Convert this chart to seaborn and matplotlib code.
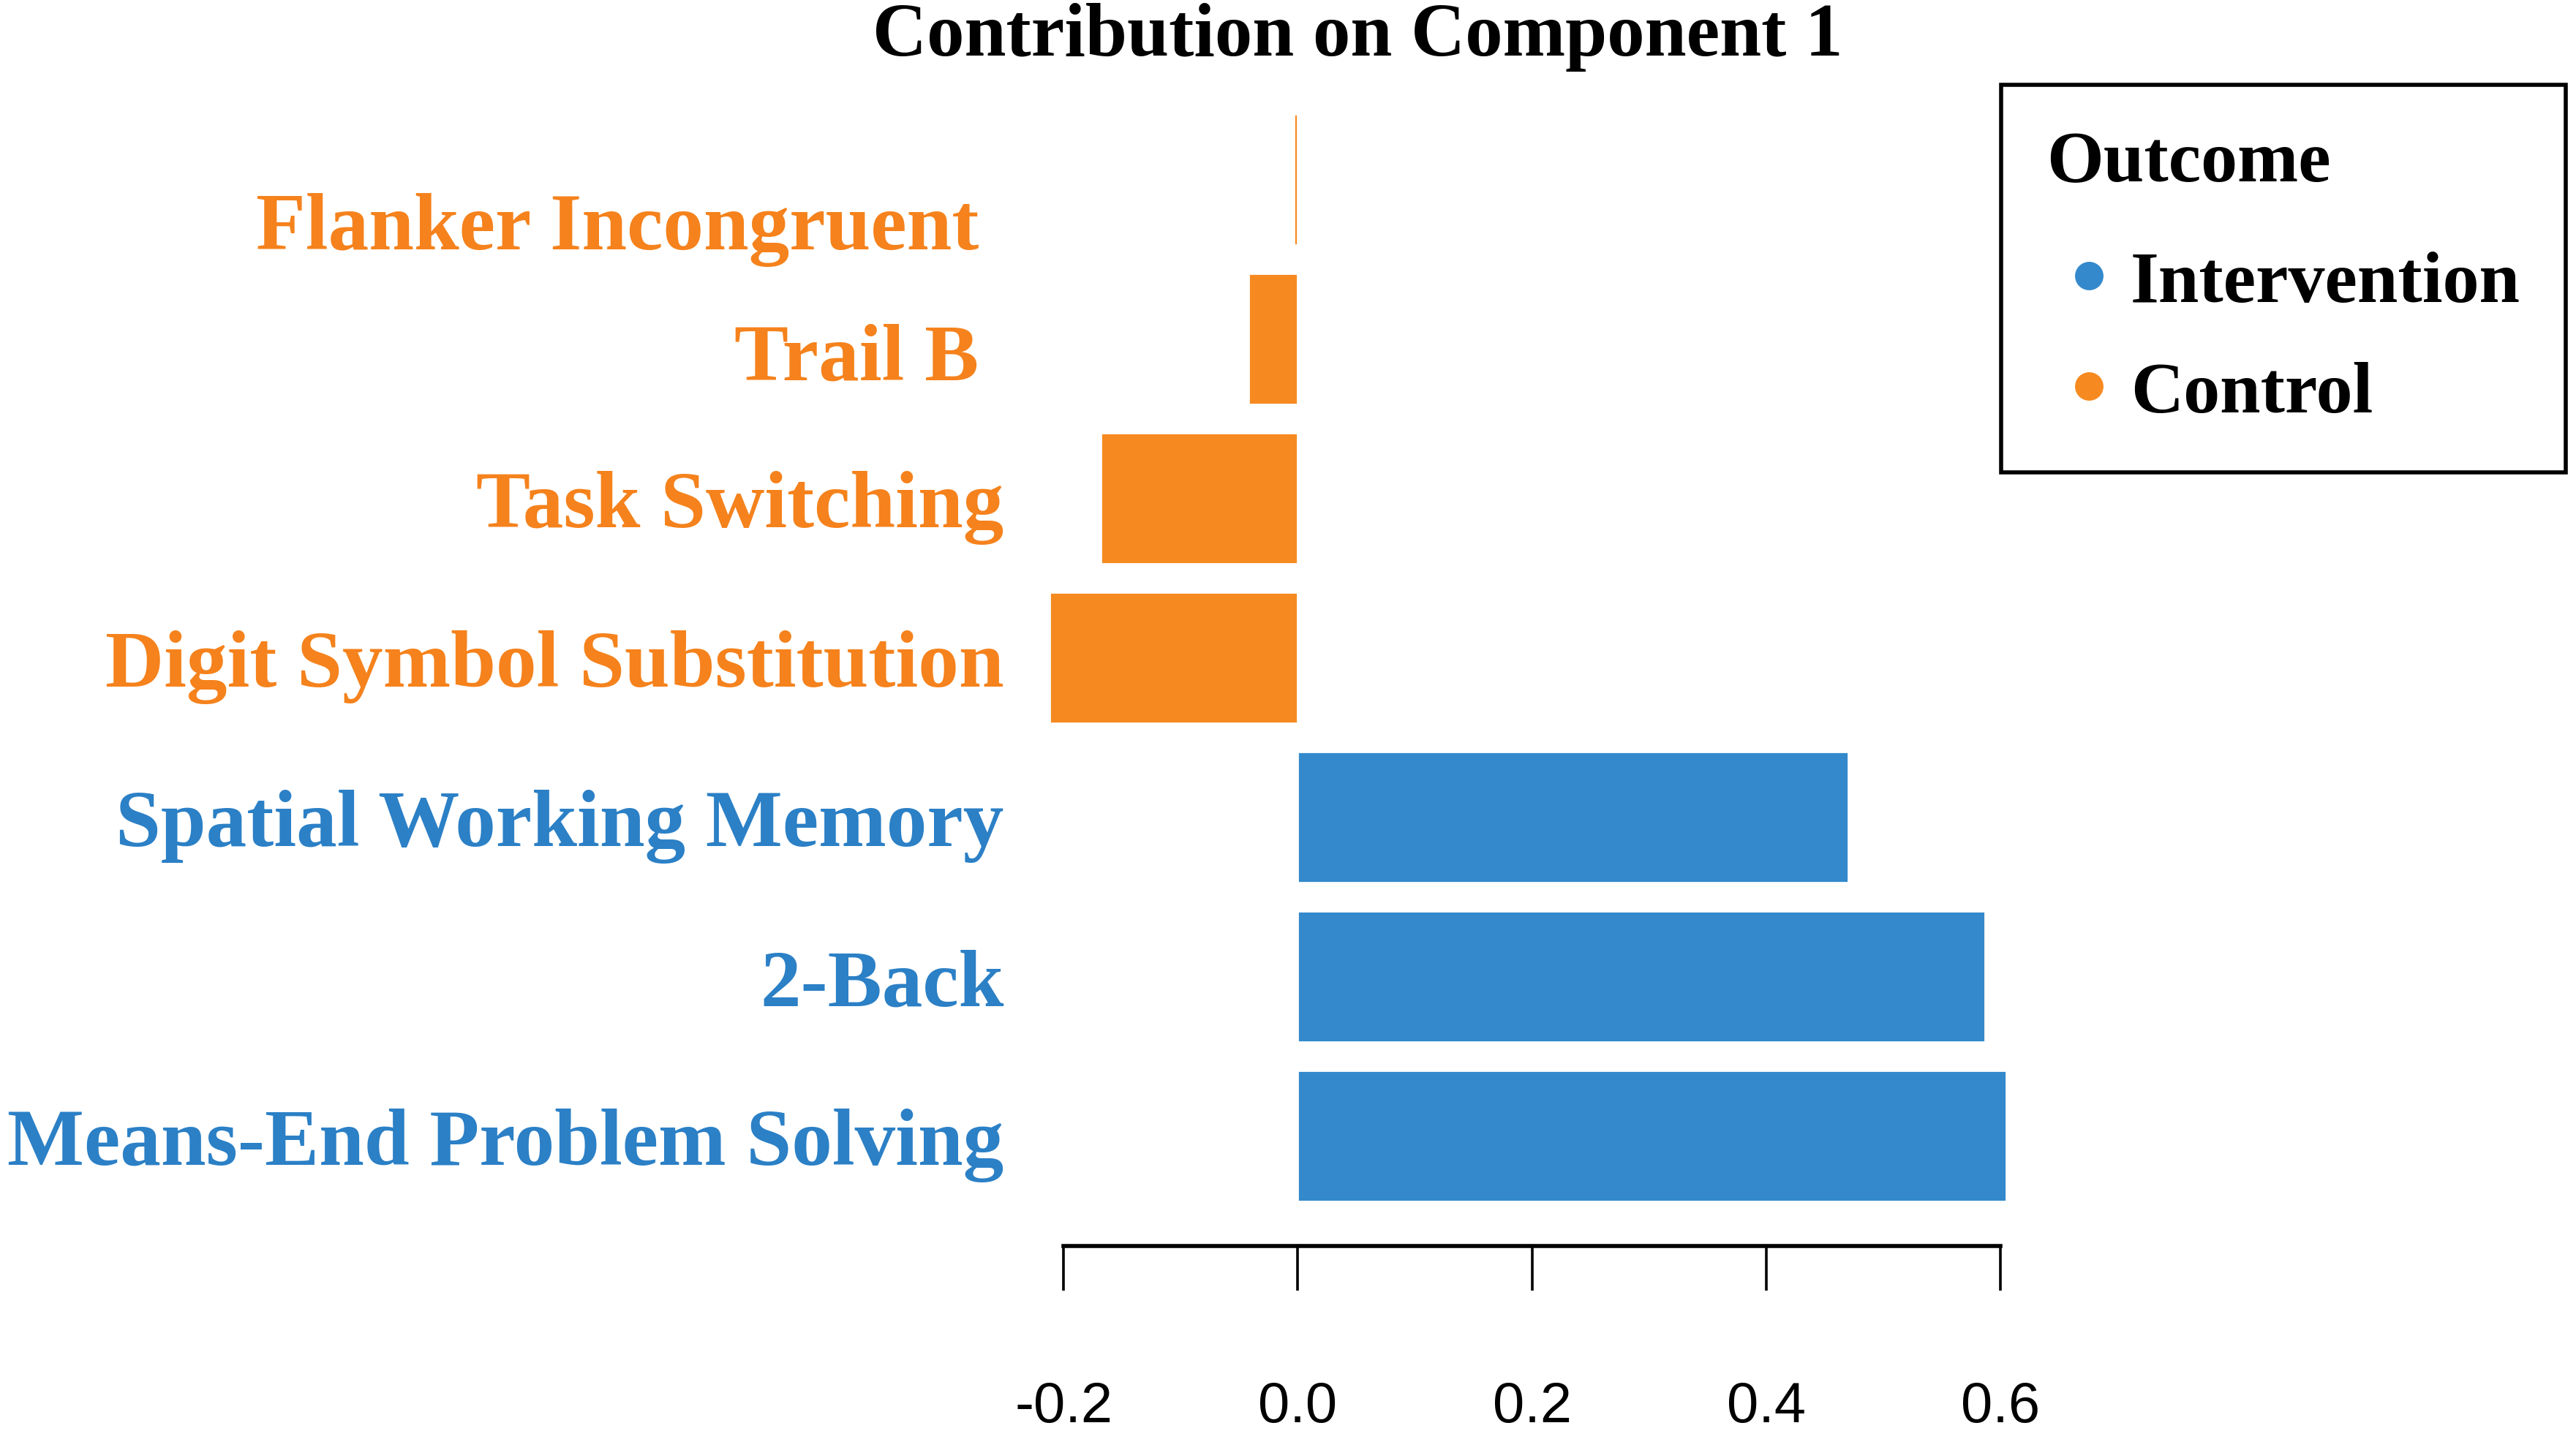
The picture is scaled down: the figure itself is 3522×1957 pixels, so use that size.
import pandas as pd
import numpy as np
import seaborn as sns
import matplotlib.pyplot as plt
import matplotlib.transforms as mtransforms
from matplotlib.lines import Line2D

# Data
measures = [
    'Flanker Incongruent',
    'Trail B',
    'Task Switching',
    'Digit Symbol Substitution',
    'Spatial Working Memory',
    '2-Back',
    'Means-End Problem Solving',
]
contribution = [-0.003, -0.042, -0.168, -0.212, 0.470, 0.587, 0.605]
outcome = ['Control', 'Control', 'Control', 'Control',
           'Intervention', 'Intervention', 'Intervention']
x_ticks = [-0.2, 0.0, 0.2, 0.4, 0.6]

palette = {'Intervention': '#3389CC', 'Control': '#F68A20'}
label_colors = {'Intervention': '#2B80C6', 'Control': '#F5821C'}

# small nudges of the row labels (pixels right, pixels down), as in the original
label_nudge = {'Flanker Incongruent': (-34, 56), 'Trail B': (-34, 16)}

df = pd.DataFrame({'measure': measures, 'value': contribution, 'outcome': outcome})

sns.set_style('white')
plt.rcParams['font.family'] = ['Liberation Serif', 'DejaVu Serif']
plt.rcParams['text.color'] = 'black'
plt.rcParams['xtick.color'] = 'black'

fig = plt.figure(figsize=(17.615, 9.79), dpi=200)
ax = fig.add_axes([0.3991, 0.1292, 0.3863, 0.8116])

sns.barplot(data=df, x='value', y='measure', hue='outcome', palette=palette,
            dodge=False, width=0.82, saturation=1, legend=False, ax=ax)

ax.set_xlim(-0.23, 0.62)
ax.set_ylim(6.69, -0.6)
ax.set_xlabel('')
ax.set_ylabel('')

# R-style axis: only the bottom spine, spanning the ticks
for side in ['left', 'top', 'right']:
    ax.spines[side].set_visible(False)
ax.spines['bottom'].set_bounds(x_ticks[0], x_ticks[-1])
ax.spines['bottom'].set_linewidth(2.0)
ax.spines['bottom'].set_color('black')

ax.set_xticks(x_ticks)
ax.set_xticklabels([f'{t:.1f}' for t in x_ticks],
                   fontfamily='Liberation Sans', fontsize=28, color='black')
ax.tick_params(axis='x', length=22, width=1.3, color='black', pad=44,
               direction='out', bottom=True)
ax.tick_params(axis='y', length=0, pad=12)

for lab, grp, name in zip(ax.get_yticklabels(), outcome, measures):
    lab.set_color(label_colors[grp])
    lab.set_fontsize(40)
    lab.set_fontweight('bold')
    if name in label_nudge:
        dx, dy = label_nudge[name]
        off = mtransforms.ScaledTranslation(dx / 200, -dy / 200, fig.dpi_scale_trans)
        lab.set_transform(lab.get_transform() + off)

fig.text(0.527, 0.974, 'Contribution on Component 1', ha='center', va='center',
         fontsize=37, fontweight='bold', color='black')

handles = [Line2D([], [], marker='o', linestyle='', markersize=13,
                  markerfacecolor=palette[k], markeredgecolor=palette[k], label=k)
           for k in ['Intervention', 'Control']]
leg = fig.legend(handles=handles, title='Outcome', loc='upper left',
                 bbox_to_anchor=(2736 / 3523, 1 - 117 / 1958),
                 prop={'size': 36, 'weight': 'bold'},
                 title_fontproperties={'size': 36, 'weight': 'bold'},
                 frameon=True, fancybox=False, edgecolor='black',
                 framealpha=1, borderpad=0.62, labelspacing=0.6,
                 handletextpad=0.0, handlelength=1.15, alignment='left',
                 borderaxespad=0, labelcolor='black')
leg.get_frame().set_linewidth(2.0)
leg.get_title().set_color('black')
# wider gap between the legend title and its entries
leg._legend_box.sep = 36 * 0.6 + 5

fig.savefig('out.png', dpi=200, facecolor='white')
